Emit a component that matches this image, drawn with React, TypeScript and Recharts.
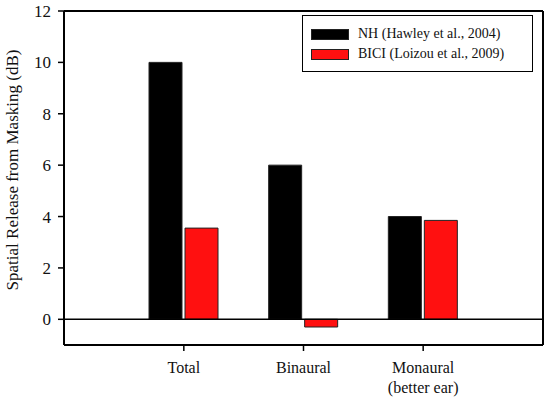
import { BarChart, Bar, XAxis, YAxis, ReferenceLine, CartesianGrid } from "recharts";

const categories = ["Total", "Binaural", "Monaural\n(better ear)"];
const nhValues = [10, 6, 4];
const biciValues = [3.55, -0.3, 3.85];
const yTicks = [0, 2, 4, 6, 8, 10, 12];

const SERIES = [
  { key: "nh", label: "NH (Hawley et al., 2004)", color: "#000000" },
  { key: "bici", label: "BICI (Loizou et al., 2009)", color: "#ff1010" },
];

const FONT = "Liberation Serif";
const INK = "#000";

const data = categories.map((name, i) => ({
  name,
  nh: nhValues[i],
  bici: biciValues[i],
}));

function CategoryTick(props: any) {
  const { x, y, payload } = props;
  const lines = String(payload.value).split("\n");
  return (
    <text x={x} y={y + 20} textAnchor="middle" fontFamily={FONT} fontSize={16} fill="#111">
      {lines.map((line, i) => (
        <tspan key={i} x={x} dy={i === 0 ? 0 : 20}>
          {line}
        </tspan>
      ))}
    </text>
  );
}

function ValueTick(props: any) {
  const { x, y, payload } = props;
  return (
    <text x={x} y={y} dy={6} textAnchor="end" fontFamily={FONT} fontSize={17} fill="#111">
      {payload.value}
    </text>
  );
}

function YTitle(props: any) {
  const { viewBox } = props;
  const cx = 12;
  const cy = viewBox.y + viewBox.height / 2 - 8;
  return (
    <text
      x={cx}
      y={cy}
      transform={`rotate(-90 ${cx} ${cy})`}
      textAnchor="middle"
      dominantBaseline="central"
      fontFamily={FONT}
      fontSize={17}
      fill="#111"
    >
      Spatial Release from Masking (dB)
    </text>
  );
}

function LegendBox() {
  return (
    <div
      style={{
        position: "absolute",
        left: 302,
        top: 15,
        width: 231,
        height: 57,
        border: "1.5px solid " + INK,
        background: "#fff",
        fontFamily: FONT,
        fontSize: 14,
        color: "#111",
        boxSizing: "border-box",
        paddingTop: 8,
        paddingLeft: 8,
      }}
    >
      {SERIES.map((s) => (
        <div key={s.key} style={{ display: "flex", alignItems: "center", height: 20 }}>
          <div
            style={{
              width: 36,
              height: 9,
              background: s.color,
              border: "1px solid #222",
              marginRight: 9,
            }}
          />
          <span>{s.label}</span>
        </div>
      ))}
    </div>
  );
}

// frame: grid lines only on the plot-area edges
const frameH = ({ offset }: any) => [offset.top, offset.top + offset.height];
const frameV = ({ offset }: any) => [offset.left, offset.left + offset.width];

export default function App() {
  return (
    <div style={{ position: "absolute", left: 0, top: 0, width: 545, height: 400, background: "#fff" }}>
      <BarChart
        width={545}
        height={400}
        data={data}
        margin={{ top: 11, right: 2, left: 0, bottom: 0 }}
        barSize={33}
        barGap={3}
      >
        <CartesianGrid
          stroke={INK}
          strokeWidth={2}
          strokeOpacity={1}
          horizontalCoordinatesGenerator={frameH}
          verticalCoordinatesGenerator={frameV}
          syncWithTicks={false}
        />
        <XAxis
          dataKey="name"
          height={55}
          padding={{ left: 60, right: 60 }}
          axisLine={{ stroke: INK, strokeWidth: 2 }}
          tickLine={{ stroke: INK, strokeWidth: 1.5 }}
          tickSize={6}
          tick={<CategoryTick />}
          interval={0}
        />
        <YAxis
          width={64}
          domain={[-1, 12]}
          ticks={yTicks}
          allowDataOverflow
          axisLine={{ stroke: INK, strokeWidth: 2 }}
          tickLine={{ stroke: INK, strokeWidth: 1.5 }}
          tickSize={6}
          tickMargin={7}
          tick={<ValueTick />}
          label={<YTitle />}
        />
        <ReferenceLine y={12} stroke={INK} strokeWidth={2} ifOverflow="visible" />
        <ReferenceLine y={0} stroke={INK} strokeWidth={1.5} />
        {SERIES.map((s) => (
          <Bar
            key={s.key}
            dataKey={s.key}
            name={s.label}
            fill={s.color}
            stroke="#222"
            strokeWidth={1}
            isAnimationActive={false}
          />
        ))}
      </BarChart>
      <LegendBox />
    </div>
  );
}
